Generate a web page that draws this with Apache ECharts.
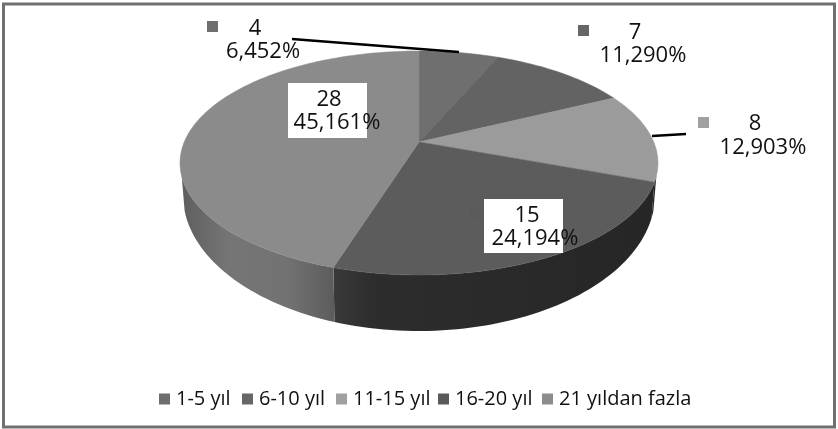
<!DOCTYPE html>
<html><head><meta charset="utf-8">
<style>html,body{margin:0;padding:0;background:#fff}#c{width:838px;height:429px}</style>
<script src="https://cdn.jsdelivr.net/npm/echarts@6/dist/echarts.min.js"></script>
</head><body><div id="c"></div>
<script>
const categories = ['1-5 yıl', '6-10 yıl', '11-15 yıl', '16-20 yıl', '21 yıldan fazla'];
const values = [4, 7, 8, 15, 28];
const topColors = ['#6f6f6f', '#636363', '#9b9b9b', '#5c5c5c', '#8b8b8b'];
const keyColors = ['#6e6e6e', '#666666', '#a0a0a0', '#5a5a5a', '#8c8c8c'];
const legendX = [159, 242, 336, 438, 542];

const FONT = '"Open Sans", sans-serif';
const TOP = {cx: 419, cy: 163, rx: 239, ry: 112};
const BOT = {cx: 419, cy: 195, rx: 236, ry: 136};
const APEX_SHIFT = 0.1875; // perspective: the pie centre sits above the ellipse centre
const total = values.reduce((a, b) => a + b, 0);
const wallFill = [
  '#2a2a2a', '#2a2a2a', '#262626',
  {type: 'linear', x: 0, y: 0, x2: 1, y2: 0, colorStops: [
    {offset: 0, color: '#3a3a3a'}, {offset: .12, color: '#2d2d2d'}, {offset: 1, color: '#262626'}]},
  {type: 'linear', x: 0, y: 0, x2: 1, y2: 0, colorStops: [
    {offset: 0, color: '#5e5e5e'}, {offset: .3, color: '#757575'},
    {offset: .7, color: '#727272'}, {offset: 1, color: '#5c5c5c'}]}
];
// text placement for each slice's data label
const labelLayout = [
  {key: [207, 21], line1: [255, 29], line2: [263, 52], leader: [[292, 39], [459, 52]]},
  {key: [578, 25], line1: [635, 33], line2: [643, 56]},
  {key: [698, 117], line1: [755, 124], line2: [763, 148], leader: [[652, 136], [686, 134]]},
  {key: [470, 208], line1: [527, 216], line2: [535, 239], box: [484, 199, 79, 54]},
  {key: [274, 94], line1: [329, 100], line2: [337, 123], box: [288, 83, 79, 55]}
];

function project(deg) {
  const t = deg * Math.PI / 180, u = Math.sin(t), v = Math.cos(t), a = APEX_SHIFT;
  const d = 1 + a * v;
  return {u: u * Math.sqrt(1 - a * a) / d, v: (v + a) / d};
}
const onEllipse = (e, p) => [e.cx + e.rx * p.u, e.cy - e.ry * p.v];

function makeRender(i) {
  return function (params, api) {
    const start = api.value(0), val = api.value(1);
    const a0 = start / total * 360, a1 = (start + val) / total * 360;
    const arc = [];
    const n = Math.max(2, Math.ceil((a1 - a0) / 1.5));
    for (let k = 0; k <= n; k++) arc.push(project(a0 + (a1 - a0) * k / n));
    const children = [];
    const front = arc.filter(p => p.v <= -0.1);
    if (front.length > 1) {
      const pts = front.map(p => onEllipse(TOP, p)).concat(front.slice().reverse().map(p => onEllipse(BOT, p)));
      children.push({type: 'polygon', z2: 1, shape: {points: pts},
        style: {fill: wallFill[i], stroke: null}});
    }
    const apex = [TOP.cx, TOP.cy - TOP.ry * APEX_SHIFT];
    children.push({type: 'polygon', z2: 5, shape: {points: [apex].concat(arc.map(p => onEllipse(TOP, p)))},
      style: {fill: topColors[i], stroke: topColors[i], lineWidth: 0.5}});
    const L = labelLayout[i];
    if (L.box) children.push({type: 'rect', z2: 10, shape: {x: L.box[0], y: L.box[1], width: L.box[2], height: L.box[3]}, style: {fill: '#ffffff'}});
    children.push({type: 'rect', z2: 11, shape: {x: L.key[0], y: L.key[1], width: 11, height: 11}, style: {fill: keyColors[i]}});
    if (L.leader) children.push({type: 'line', z2: 11,
      shape: {x1: L.leader[0][0], y1: L.leader[0][1], x2: L.leader[1][0], y2: L.leader[1][1]},
      style: {stroke: '#000000', lineWidth: 2.5}});
    const pct = (val / total * 100).toFixed(3).replace('.', ',') + '%';
    [[String(val), L.line1], [pct, L.line2]].forEach(([t, pos]) => children.push({type: 'text', z2: 12,
      style: {text: t, x: pos[0], y: pos[1], align: 'center', verticalAlign: 'middle',
        font: '22px ' + FONT, fill: '#111111'}}));
    return {type: 'group', children};
  };
}

let cum = 0;
const series = categories.map((name, i) => {
  const d = [cum, values[i]];
  cum += values[i];
  return {type: 'custom', name, coordinateSystem: 'none', silent: true,
    itemStyle: {color: keyColors[i]}, renderItem: makeRender(i), data: [d], animation: false};
});

const chart = echarts.init(document.getElementById('c'), null, {renderer: 'canvas'});
chart.setOption({
  animation: false,
  backgroundColor: '#ffffff',
  legend: categories.map((name, i) => ({
    data: [name], left: legendX[i], top: 389, padding: 0, itemWidth: 11, itemHeight: 11, itemGap: 0,
    icon: 'rect', selectedMode: false,
    textStyle: {fontFamily: FONT, fontSize: 20, color: '#111111', padding: [0, 0, 0, 1]}
  })),
  graphic: [{type: 'rect', z: 100, silent: true, shape: {x: 3.5, y: 4, width: 831, height: 423},
    style: {fill: 'transparent', stroke: '#707070', lineWidth: 3}}],
  series
});
</script></body></html>
